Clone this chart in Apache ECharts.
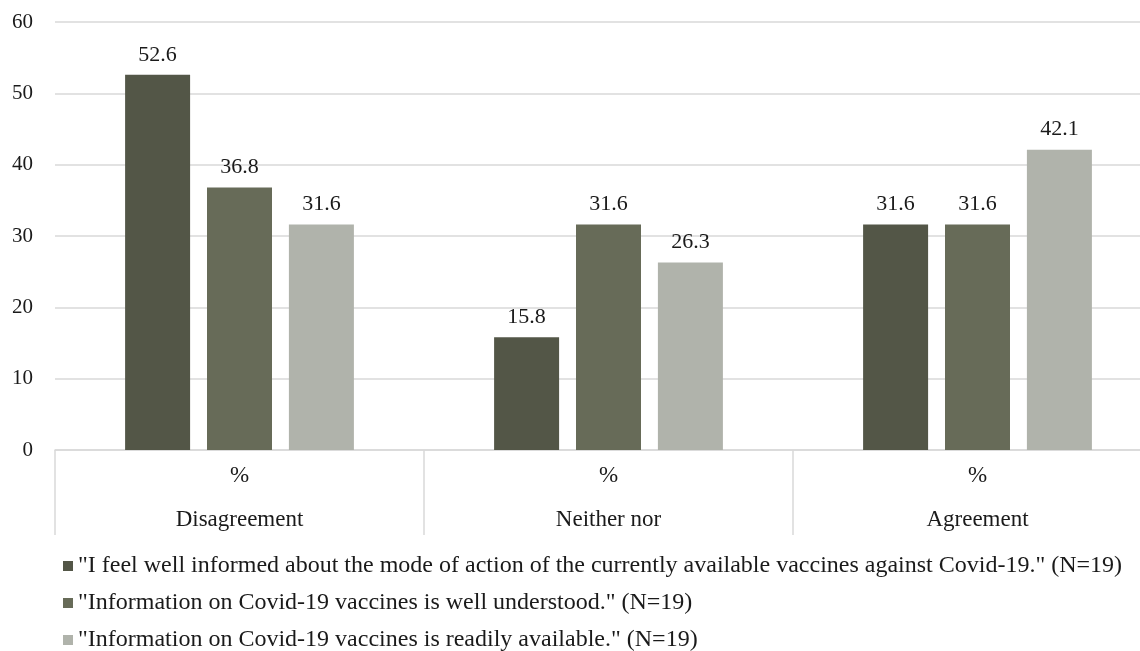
<!DOCTYPE html>
<html>
<head>
<meta charset="utf-8">
<script src="https://cdn.jsdelivr.net/npm/echarts@6/dist/echarts.min.js"></script>
<style>html,body{margin:0;padding:0;background:#fff;overflow:hidden}#c{width:1162px;height:651px}</style>
</head>
<body>
<div id="c"></div>
<script>
const categories = ['Disagreement', 'Neither nor', 'Agreement'];
const subLabel = '%';
const seriesNames = [
  '"I feel well informed about the mode of action of the currently available vaccines against Covid-19." (N=19)',
  '"Information on Covid-19 vaccines is well understood." (N=19)',
  '"Information on Covid-19 vaccines is readily available." (N=19)'
];
const informed = [52.6, 15.8, 31.6];
const understood = [36.8, 31.6, 31.6];
const available = [31.6, 26.3, 42.1];
const colors = ['#535647', '#676b58', '#b0b3ab'];
const yTicks = { min: 0, max: 60, interval: 10 };

const font = 'Liberation Serif, Times New Roman, serif';
const values = [informed, understood, available];
const chart = echarts.init(document.getElementById('c'));
chart.setOption({
  animation: false,
  textStyle: { fontFamily: font },
  grid: { left: 55, right: 0, top: 22, height: 428, containLabel: false },
  legend: {
    orient: 'vertical', left: 58, top: 549, height: 102,
    itemWidth: 10, itemHeight: 10, itemGap: 13,
    icon: 'rect',
    textStyle: { fontFamily: font, fontSize: 24, color: '#1a1a1a' },
    data: seriesNames
  },
  xAxis: {
    type: 'category', data: categories,
    axisLine: { lineStyle: { color: '#d9d9d9', width: 1.5 } },
    axisTick: { show: true, length: 85, lineStyle: { color: '#d9d9d9', width: 1.5 } },
    axisLabel: {
      margin: 4, fontFamily: font, fontSize: 23, color: '#1a1a1a', lineHeight: 44,
      formatter: v => subLabel + '\n' + v
    }
  },
  yAxis: {
    type: 'value', min: yTicks.min, max: yTicks.max, interval: yTicks.interval,
    axisLine: { show: false }, axisTick: { show: false },
    splitLine: { lineStyle: { color: '#d9d9d9', width: 1.5 } },
    axisLabel: { margin: 22, fontFamily: font, fontSize: 21, color: '#1a1a1a' }
  },
  series: values.map((d, i) => ({
    name: seriesNames[i], type: 'bar', data: d,
    barWidth: 65, barGap: '26%',
    itemStyle: { color: colors[i] },
    label: { show: true, position: 'top', distance: 9, fontFamily: font, fontSize: 22, color: '#1a1a1a',
      formatter: p => p.value.toFixed(1) }
  }))
});
</script>
</body>
</html>
